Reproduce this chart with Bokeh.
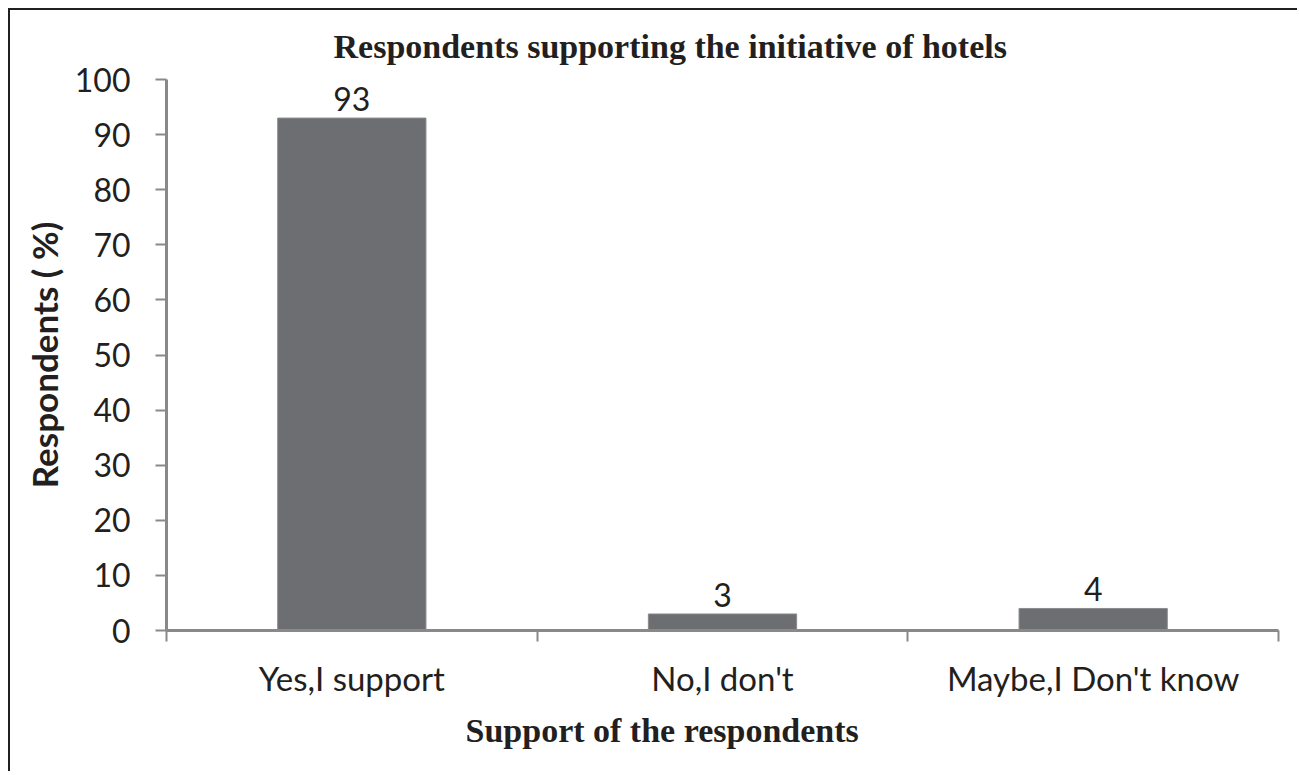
from bokeh.plotting import figure
from bokeh.models import FixedTicker, Range1d, Title, ColumnDataSource
from bokeh.core.properties import value
from bokeh.embed import file_html
from bokeh.resources import INLINE

categories = ["Yes,I support", "No,I don't", "Maybe,I Don't know"]
values = [93, 3, 4]
y_ticks = [0, 10, 20, 30, 40, 50, 60, 70, 80, 90, 100]
title_text = "Respondents supporting the initiative of hotels"
x_title = "Support  of the respondents"
y_title = "Respondents ( %)"

centers = [i + 0.5 for i in range(len(categories))]
bounds = list(range(len(categories) + 1))
src = ColumnDataSource(dict(x=centers, top=values, label=[str(v) for v in values]))

AX = "#898989"
SANS = "Lato"
INK = "#231f20"

p = figure(width=1289, height=763, output_backend="svg", toolbar_location=None,
           x_range=Range1d(0, len(categories)), y_range=Range1d(0, 100),
           min_border_left=156, min_border_right=21, min_border_top=68, min_border_bottom=143)
p.styles = {"margin-left": "8px", "margin-top": "8px",
            "border-top": "2px solid #231f20", "border-left": "2px solid #231f20"}
p.outline_line_color = None
p.grid.visible = False
p.background_fill_color = "white"
p.border_fill_color = "white"

p.vbar(x="x", top="top", width=0.4, source=src, fill_color="#6d6e71", line_color="#8a8b8d", line_width=1)
p.text(x="x", y="top", text="label", source=src, text_align="center", text_baseline="bottom",
       y_offset=-7, text_font=value(SANS), text_font_size="32px", text_color=INK)

# title
t = Title(text=title_text, align="left", offset=167, text_font="Liberation Serif",
          text_font_style="bold", text_font_size="34px", text_color=INK, standoff=30)
p.add_layout(t, "above")

# x axis
xa = p.xaxis[0]
xa.ticker = FixedTicker(ticks=centers, minor_ticks=bounds)
xa.major_label_overrides = {c: lab for c, lab in zip(centers, categories)}
xa.major_tick_out = 0
xa.major_tick_in = 0
xa.minor_tick_out = 11
xa.minor_tick_in = 0
xa.minor_tick_line_color = AX
xa.minor_tick_line_width = 2
xa.axis_line_color = AX
xa.axis_line_width = 3
xa.major_label_standoff = 16
xa.major_label_text_font = SANS
xa.major_label_text_font_size = "33px"
xa.major_label_text_color = INK

xt = Title(text=x_title, align="left", offset=299, text_font="Liberation Serif",
           text_font_style="bold", text_font_size="34px", text_color=INK, standoff=18)
p.add_layout(xt, "below")

# y axis
ya = p.yaxis[0]
ya.ticker = FixedTicker(ticks=y_ticks, minor_ticks=[])
ya.major_tick_out = 11
ya.major_tick_in = 0
ya.major_tick_line_color = AX
ya.major_tick_line_width = 2
ya.axis_line_color = AX
ya.axis_line_width = 3
ya.major_label_standoff = 25
ya.major_label_text_font = SANS
ya.major_label_text_font_size = "32px"
ya.major_label_text_color = INK
ya.axis_label = y_title
ya.axis_label_text_font = SANS
ya.axis_label_text_font_style = "bold"
ya.axis_label_text_font_size = "35px"
ya.axis_label_text_color = INK
ya.axis_label_standoff = 7

open("out.html", "w").write(file_html(p, INLINE))
